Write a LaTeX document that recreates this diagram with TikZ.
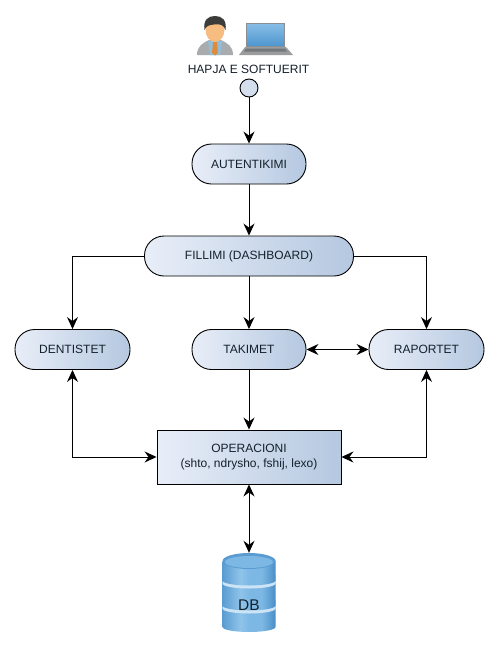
\documentclass[tikz,border=0pt]{standalone}
\usepackage{fontspec}
\setmainfont{Liberation Sans}
\usetikzlibrary{arrows.meta,positioning}
\definecolor{dbA}{HTML}{5A9CD2}
\definecolor{dbB}{HTML}{8FC4EA}
\definecolor{dbC}{HTML}{7DB8E4}
\definecolor{dbD}{HTML}{4A8EC8}
\definecolor{gl}{HTML}{E8EEF8}
\definecolor{gr}{HTML}{B5C8E0}
\definecolor{ink}{HTML}{14202C}
\definecolor{skin}{HTML}{F6BC80}
\definecolor{suit}{HTML}{A9ACAE}
\definecolor{shirt}{HTML}{8FBFDD}
\definecolor{tie}{HTML}{E08A3C}
\definecolor{hair}{HTML}{3C3C3A}
\definecolor{lapframe}{HTML}{8A8F94}
\definecolor{lapbase}{HTML}{9A9C9E}
\definecolor{lapkey}{HTML}{75787A}
\definecolor{scrA}{HTML}{4F97CF}
\definecolor{scrB}{HTML}{86BDE6}
\pgfdeclarehorizontalshading{dbshade}{100bp}{
 color(0bp)=(dbA); color(25bp)=(dbA); color(42bp)=(dbB); color(50bp)=(dbC); color(62bp)=(dbC); color(75bp)=(dbD); color(100bp)=(dbD)}
\tikzset{
 x=1pt,y=-1pt,
 every node/.style={font=\fontsize{12}{15}\selectfont,text=ink},
 box/.style={draw=black,line width=.9pt,left color=gl,right color=gr,align=center,inner sep=0pt},
 pill/.style={box,rounded corners=19.5pt,minimum height=40pt},
 conn/.style={draw=black,line width=1pt},
 tip/.style={-{Stealth[length=12pt,width=11pt,inset=4pt]}},
 tips/.style={{Stealth[length=12pt,width=11pt,inset=4pt]}-{Stealth[length=12pt,width=11pt,inset=4pt]}},
 tier/.style={shading=dbshade,draw=none},
 band/.style={fill=dbB!45!white},
}
\begin{document}
\begin{tikzpicture}
\useasboundingbox[fill=white] (0,0) rectangle (498,648);
% user icon
\fill[suit] (197,55) .. controls (197,46) and (203,43) .. (209,40) -- (221,40) .. controls (227,43) and (233,46) .. (233,55) -- cycle;
\fill[shirt] (208,41) -- (222,41) -- (220,55) -- (210,55) -- cycle;
\fill[tie] (213,42) -- (217,42) -- (218,53) -- (215,55.5) -- (212,53) -- cycle;
\fill[skin] (215,29.5) ellipse [x radius=9.5pt,y radius=12.5pt];
\fill[hair] (204.5,30) .. controls (203,20) and (208,16) .. (215,16) .. controls (222,16) and (227,20) .. (225.5,30) .. controls (224,25) and (220,23.5) .. (214,24.5) .. controls (209,25) and (206,26) .. (204.5,30) -- cycle;
% laptop icon
\fill[lapframe] (245.5,22.5) rectangle (285,47);
\shade[bottom color=scrA,top color=scrB] (247,24) rectangle (283.5,45.5);
\fill[lapbase] (245,47) -- (286,47) -- (293,55) -- (239,55) -- cycle;
\fill[lapkey] (246,48.5) -- (285,48.5) -- (287,51.5) -- (244,51.5) -- cycle;
\node (title) at (248.5,69) {HAPJA E SOFTUERIT};
\node[circle,draw=black,line width=.9pt,fill=gl!60!gr,minimum size=18pt,inner sep=0pt] (start) at (249,88) {};
\node[pill,minimum width=114pt] (auth) at (249,164) {AUTENTIKIMI};
\node[pill,minimum width=209pt] (dash) at (249,256) {FILLIMI (DASHBOARD)};
\node[pill,minimum width=115pt] (dent) at (72.5,349.5) {DENTISTET};
\node[pill,minimum width=114pt] (tak) at (249,349.5) {TAKIMET};
\node[pill,minimum width=115pt] (rap) at (426.5,349.5) {RAPORTET};
\node[box,minimum width=184pt,minimum height=54pt] (op) at (249,457) {OPERACIONI\\(shto, ndrysho, fshij, lexo)};
% database
\path (249,592.5) node[minimum width=54pt,minimum height=79pt,inner sep=0pt] (db) {};
\shade[tier] (222.5,600) -- (275.5,600) -- (275.5,627) arc[start angle=0,end angle=180,x radius=26.5pt,y radius=-5pt] -- cycle;
\fill[band] (222.5,600) -- (275.5,600) -- (275.5,608.5) arc[start angle=0,end angle=180,x radius=26.5pt,y radius=-5pt] -- cycle;
\shade[tier] (222.5,575) -- (275.5,575) -- (275.5,605.5) arc[start angle=0,end angle=180,x radius=26.5pt,y radius=-5pt] -- cycle;
\fill[band] (222.5,575) -- (275.5,575) -- (275.5,583.5) arc[start angle=0,end angle=180,x radius=26.5pt,y radius=-5pt] -- cycle;
\shade[tier] (222.5,561) -- (275.5,561) -- (275.5,580.5) arc[start angle=0,end angle=180,x radius=26.5pt,y radius=-5pt] -- cycle;
\fill[dbA] (249,561) ellipse [x radius=26.5pt,y radius=8pt];
\fill[dbC] (249,562) ellipse [x radius=24pt,y radius=6pt];
\node[font=\fontsize{15.5}{16}\selectfont] (dblabel) at (249,605) {DB};
% connectors
\draw[conn,tip] (start) -- (auth);
\draw[conn,tip] (auth) -- (dash);
\draw[conn,tip] (dash.west) -| (dent.north);
\draw[conn,tip] (dash) -- (tak);
\draw[conn,tip] (dash.east) -| (rap.north);
\draw[conn,tips] (tak) -- (rap);
\draw[conn,tip] (tak) -- (op);
\draw[conn,tips] (dent.south) |- (op.west);
\draw[conn,tips] (rap.south) |- (op.east);
\draw[conn,tips] (op) -- (db);
\end{tikzpicture}
\end{document}
